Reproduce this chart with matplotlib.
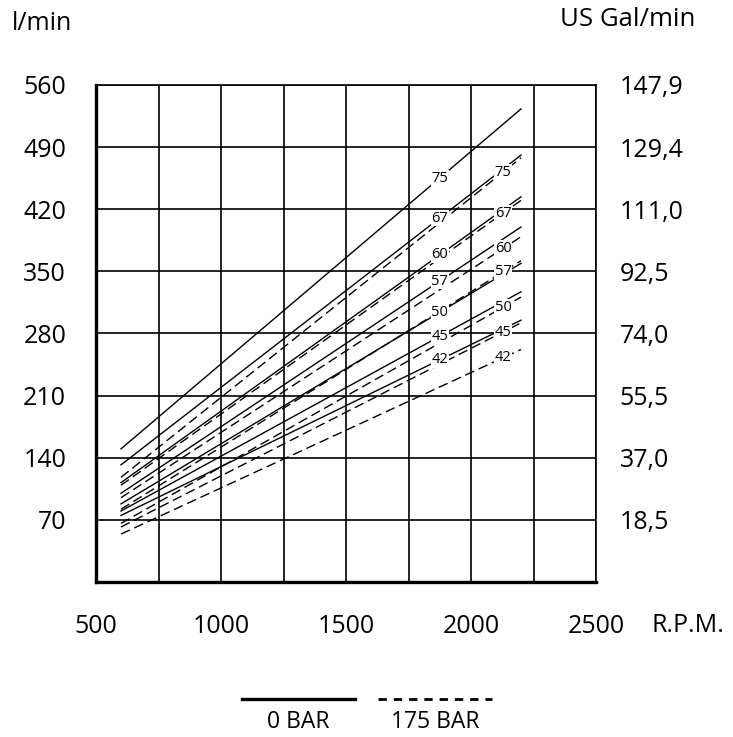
import numpy as np
import matplotlib
matplotlib.use("Agg")
import matplotlib.pyplot as plt
from matplotlib.lines import Line2D

plt.rcParams['font.family'] = ['Open Sans', 'DejaVu Sans']

# ---- data ----
labels = ["75", "67", "60", "57", "50", "45", "42"]
rpm = [600, 2200]
flow_0bar_start = [150, 132, 112, 100, 88, 80, 75]
flow_0bar_end = [533, 481, 434, 400, 359, 327, 295]
flow_175bar_start = [118, 109, 95, 82, 66, 62, 54]
flow_175bar_end = [478, 430, 389, 362, 321, 292, 262]

left_ticks = [70, 140, 210, 280, 350, 420, 490, 560]
right_tick_labels = ["18,5", "37,0", "55,5", "74,0", "92,5", "111,0", "129,4", "147,9"]
x_ticks = [500, 1000, 1500, 2000, 2500]
x_grid = [500, 750, 1000, 1250, 1500, 1750, 2000, 2250, 2500]
label_rpm_0bar = 1875
label_rpm_175bar = 2128

W, H = 733, 737
fig = plt.figure(figsize=(W / 100, H / 100), dpi=100)
ax = fig.add_axes([96 / W, 1 - 582 / H, 500 / W, 497 / H])
ax.set_xlim(500, 2500)
ax.set_ylim(0, 560)

for xv in x_grid:
    ax.axvline(xv, color='black', lw=1.2, zorder=1)
for yv in left_ticks:
    ax.axhline(yv, color='black', lw=1.2, zorder=1)

for lab, s0, e0, s1, e1 in zip(labels, flow_0bar_start, flow_0bar_end,
                               flow_175bar_start, flow_175bar_end):
    ax.plot(rpm, [s0, e0], color='black', lw=1.0, zorder=2)
    ax.plot(rpm, [s1, e1], color='black', lw=1.0, dashes=(7, 3.5), zorder=2)
    y0 = np.interp(label_rpm_0bar, rpm, [s0, e0])
    y1 = np.interp(label_rpm_175bar, rpm, [s1, e1])
    ax.text(label_rpm_0bar, y0, lab, fontsize=10.5, ha='center', va='center', zorder=3,
            bbox=dict(boxstyle='square,pad=0.05', fc='white', ec='none'))
    ax.text(label_rpm_175bar, y1, lab, fontsize=10.5, ha='center', va='center', zorder=3,
            bbox=dict(boxstyle='square,pad=0.05', fc='white', ec='none'))

for sp in ['top', 'right']:
    ax.spines[sp].set_linewidth(1.2)
for sp in ['left', 'bottom']:
    ax.spines[sp].set_linewidth(2.4)

ax.set_yticks(left_ticks)
ax.set_yticklabels([str(v) for v in left_ticks])
ax.set_xticks(x_ticks)
ax.set_xticklabels([str(v) for v in x_ticks])
ax.tick_params(axis='both', length=0, labelsize=18)
ax.tick_params(axis='y', pad=21.5)
ax.tick_params(axis='x', pad=23)

axr = ax.twinx()
axr.set_ylim(0, 560)
axr.set_yticks(left_ticks)
axr.set_yticklabels(right_tick_labels)
axr.tick_params(axis='y', length=0, labelsize=18, pad=17)
for sp in axr.spines.values():
    sp.set_visible(False)

fig.text(12 / W, 1 - 24 / H, "l/min", fontsize=18, ha='left', va='center')
fig.text(560 / W, 1 - 20 / H, "US Gal/min", fontsize=18.5, ha='left', va='center')
fig.text(652 / W, 1 - 625 / H, "R.P.M.", fontsize=18, ha='left', va='center')

fig.add_artist(Line2D([242 / W, 355 / W], [1 - 699 / H, 1 - 699 / H], color='black', lw=2.4))
fig.add_artist(Line2D([378 / W, 492 / W], [1 - 699 / H, 1 - 699 / H], color='black', lw=2.0,
                      dashes=(3, 2.5)))
fig.text(298 / W, 1 - 722 / H, "0 BAR", fontsize=16.5, ha='center', va='center')
fig.text(435 / W, 1 - 722 / H, "175 BAR", fontsize=16.5, ha='center', va='center')

fig.savefig("out.png", dpi=100)
